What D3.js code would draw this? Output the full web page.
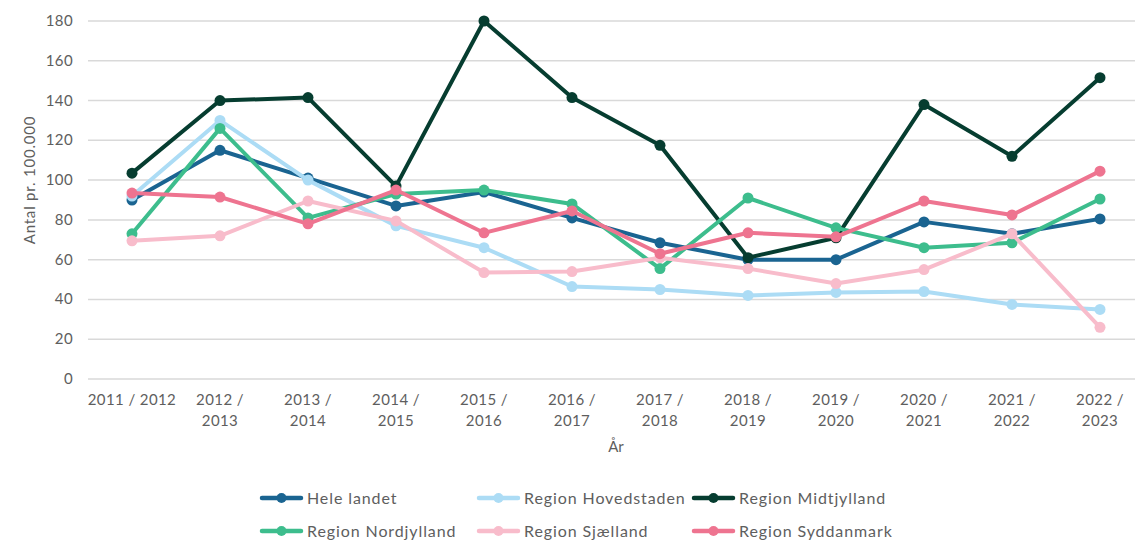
<!DOCTYPE html>
<html>
<head>
<meta charset="utf-8">
<script src="https://cdn.jsdelivr.net/npm/d3@7"></script>
<style>
  body { margin: 0; background: #fff; }
  svg { display: block; font-family: Lato, "Open Sans", sans-serif; }
</style>
</head>
<body>
<svg id="chart" width="1135" height="542"></svg>
<script>
const years = ["2011 / 2012", "2012 / 2013", "2013 / 2014", "2014 / 2015", "2015 / 2016", "2016 / 2017",
  "2017 / 2018", "2018 / 2019", "2019 / 2020", "2020 / 2021", "2021 / 2022", "2022 / 2023"];

const heleLandet   = [90, 115, 101, 87, 94, 81, 68.5, 60, 60, 79, 73, 80.5];
const hovedstaden  = [92, 130, 100, 77, 66, 46.5, 45, 42, 43.5, 44, 37.5, 35];
const midtjylland  = [103.5, 140, 141.5, 97, 180, 141.5, 117.5, 61, 71, 138, 112, 151.5];
const nordjylland  = [73, 126, 81, 93, 95, 88, 55.5, 91, 76, 66, 68.5, 90.5];
const sjaelland    = [69.5, 72, 89.5, 79.5, 53.5, 54, 61, 55.5, 48, 55, 73, 26];
const syddanmark   = [93.5, 91.5, 78, 95, 73.5, 84.5, 63, 73.5, 71.5, 89.5, 82.5, 104.5];

const seriesNames = ["Hele landet", "Region Hovedstaden", "Region Midtjylland",
  "Region Nordjylland", "Region Sjælland", "Region Syddanmark"];
const seriesValues = [heleLandet, hovedstaden, midtjylland, nordjylland, sjaelland, syddanmark];
const colors = ["#1a6491", "#acdcf5", "#063d30", "#3dbd8d", "#f8bccb", "#ee7490"];
const yTicks = [0, 20, 40, 60, 80, 100, 120, 140, 160, 180];

const svg = d3.select("#chart");
const textColor = "#5e5e5e";

const x = d3.scalePoint().domain(years).range([88, 1144]).padding(0.5);
const y = d3.scaleLinear().domain([0, 180]).range([379, 21]);

// gridlines
svg.append("g").selectAll("line")
  .data(yTicks).enter().append("line")
  .attr("x1", 88).attr("x2", 1135)
  .attr("y1", d => y(d)).attr("y2", d => y(d))
  .attr("stroke", "#d9d9d9").attr("stroke-width", 1.5);

// y tick labels
svg.append("g").selectAll("text")
  .data(yTicks).enter().append("text")
  .attr("x", 73).attr("y", d => y(d) + 5)
  .attr("text-anchor", "end")
  .attr("font-size", 15).attr("letter-spacing", 0.4).attr("fill", textColor)
  .text(d => d);

// x tick labels, wrapped after the slash except the first
const xl = svg.append("g").selectAll("text")
  .data(years).enter().append("text")
  .attr("text-anchor", "middle")
  .attr("font-size", 15).attr("letter-spacing", 0.4).attr("fill", textColor)
  .attr("transform", d => `translate(${x(d)},405)`);
xl.each(function(d, i) {
  const t = d3.select(this);
  if (i === 0) {
    t.append("tspan").attr("x", 0).attr("y", 0).text(d);
  } else {
    const parts = d.split(" / ");
    t.append("tspan").attr("x", 0).attr("y", 0).text(parts[0] + " /");
    t.append("tspan").attr("x", 0).attr("y", 21).text(parts[1]);
  }
});

// axis titles
svg.append("text")
  .attr("x", 616).attr("y", 452)
  .attr("text-anchor", "middle")
  .attr("font-size", 15).attr("fill", textColor)
  .text("År");
svg.append("text")
  .attr("transform", "translate(35,180) rotate(-90)")
  .attr("text-anchor", "middle")
  .attr("font-size", 15).attr("letter-spacing", 0.8).attr("fill", textColor)
  .text("Antal pr. 100.000");

// lines + markers
const line = d3.line().x((d, i) => x(years[i])).y(d => y(d));
seriesValues.forEach((vals, s) => {
  const g = svg.append("g");
  g.append("path")
    .attr("d", line(vals))
    .attr("fill", "none")
    .attr("stroke", colors[s])
    .attr("stroke-width", 4)
    .attr("stroke-linejoin", "round");
  g.selectAll("circle")
    .data(vals).enter().append("circle")
    .attr("cx", (d, i) => x(years[i]))
    .attr("cy", d => y(d))
    .attr("r", 5.5)
    .attr("fill", colors[s]);
});

// legend
const legX = [260, 477, 692];
const legY = [498, 531];
seriesNames.forEach((name, i) => {
  const lx = legX[i % 3], ly = legY[Math.floor(i / 3)];
  const g = svg.append("g").attr("transform", `translate(${lx},${ly})`);
  g.append("line").attr("x1", 2).attr("x2", 41).attr("y1", 0).attr("y2", 0)
    .attr("stroke", colors[i]).attr("stroke-width", 4.5).attr("stroke-linecap", "round");
  g.append("circle").attr("cx", 21.5).attr("cy", 0).attr("r", 5).attr("fill", colors[i]);
  g.append("text").attr("x", 47).attr("y", 6)
    .attr("font-size", 16).attr("letter-spacing", 0.9).attr("fill", textColor)
    .text(name);
});
</script>
</body>
</html>
